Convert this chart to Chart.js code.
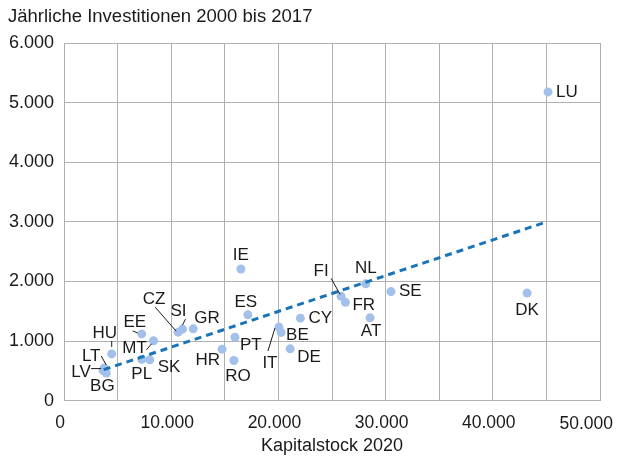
<!DOCTYPE html>
<html>
<head>
<meta charset="utf-8">
<script src="https://cdn.jsdelivr.net/npm/chart.js@4"></script>
<style>
  html, body { margin: 0; padding: 0; background: #fff; }
  canvas { display: block; }
</style>
</head>
<body>
<canvas id="investChart" width="617" height="456"></canvas>
<script>
const countries = ["LU", "DK", "SE", "NL", "FI", "FR", "AT", "CY", "BE", "DE", "IT", "IE", "ES", "PT",
    "HR", "RO", "GR", "SI", "CZ", "EE", "MT", "HU", "LT", "LV", "PL", "SK", "BG"];
const kapitalstock = [45150, 43200, 30500, 28150, 25850, 26250, 28550, 22050, 20250, 21100, 20050, 16500, 17150, 15950,
    14750, 15850, 12050, 11050, 10650, 7250, 8350, 4450, 3750, 3650, 7250, 8000, 3950];
const investitionen = [5180, 1805, 1830, 1960, 1750, 1650, 1390, 1385, 1145, 870, 1235, 2210, 1440, 1065,
    865, 675, 1205, 1200, 1150, 1120, 1005, 785, 550, 505, 695, 685, 465];
const trendX = [3700, 44700];
const trendY = [520, 2980];
const xTickLabels = ["0", "10.000", "20.000", "30.000", "40.000", "50.000"];
const yTickLabels = ["0", "1.000", "2.000", "3.000", "4.000", "5.000", "6.000"];

// label placement: dx, dy, align, optional leader line (relative to point)
const labelPos = {
    LU: [8, 0, "left"], DK: [0, 17, "center"], SE: [8, 0, "left"], NL: [0, -16, "center"],
    FI: [-20, -25, "center", [-10, -18, -1, -2]], FR: [7, 3, "left"], AT: [1, 13, "center"],
    CY: [8, 0, "left"], BE: [5, 3, "left"], DE: [7, 8, "left"],
    IT: [-9, 36, "center", [-11, 24, -4, 1]], IE: [0, -14, "center"], ES: [-2, -13, "center"],
    PT: [5, 8, "left"], HR: [-2, 11, "right"], RO: [4, 16, "center"], GR: [1, -11, "left"],
    SI: [-4, -18, "center", [3, -10, 0, -4]], CZ: [-24, -33, "center", [-23, -25, -2, -1]],
    EE: [-7, -12, "center", [-9, -3, -4, -1]], MT: [-19, 8, "center", [-7, 9, -2, 3]],
    HU: [-7, -21, "center", [0, -13, 0, -7]], LT: [-13, -12, "center", [-3, -12, 2, -3]],
    LV: [-22, 2, "center", [-12, -2, -2, -2]], PL: [0, 15, "center"], SK: [8, 7, "left"],
    BG: [-4, 13, "center"]
};

const FONT = "'Liberation Sans', Arial, Helvetica, sans-serif";
const gridColor = "#b0b0b0";

const pointLabels = {
    id: "pointLabels",
    afterDatasetsDraw(chart) {
        const ctx = chart.ctx;
        const meta = chart.getDatasetMeta(0);
        ctx.save();
        ctx.font = "17px " + FONT;
        ctx.fillStyle = "#1a1a1a";
        ctx.strokeStyle = "#1a1a1a";
        ctx.lineWidth = 1;
        ctx.textBaseline = "middle";
        countries.forEach((c, i) => {
            const p = meta.data[i];
            const pos = labelPos[c];
            ctx.textAlign = pos[2];
            ctx.fillText(c, p.x + pos[0], p.y + pos[1]);
            if (pos[3]) {
                const l = pos[3];
                ctx.beginPath();
                ctx.moveTo(p.x + l[0], p.y + l[1]);
                ctx.lineTo(p.x + l[2], p.y + l[3]);
                ctx.stroke();
            }
        });
        // last x tick label sits inside the canvas edge
        const xs = chart.scales.x;
        ctx.font = "17.5px " + FONT;
        ctx.textAlign = "right";
        ctx.fillText(xTickLabels[xTickLabels.length - 1], xs.getPixelForValue(50000) + 13, xs.top + 23);
        ctx.restore();
    }
};

new Chart(document.getElementById("investChart"), {
    type: "scatter",
    data: {
        datasets: [{
            label: "Investitionen",
            data: countries.map((c, i) => ({ x: kapitalstock[i], y: investitionen[i] })),
            backgroundColor: "#a3c0ea",
            borderWidth: 0,
            pointRadius: 4.5,
            pointHoverRadius: 4.5,
            order: 2
        }, {
            type: "line",
            label: "Trend",
            data: trendX.map((x, i) => ({ x: x, y: trendY[i] })),
            borderColor: "#1874b8",
            borderWidth: 3,
            borderDash: [7, 5],
            pointRadius: 0,
            fill: false,
            order: 1
        }]
    },
    options: {
        responsive: false,
        animation: false,
        layout: { padding: { left: 8, right: 17, top: 0, bottom: 0 } },
        plugins: {
            legend: { display: false },
            tooltip: { enabled: false },
            title: {
                display: true,
                text: "Jährliche Investitionen 2000 bis 2017",
                align: "start",
                color: "#1a1a1a",
                font: { family: FONT, size: 18.5, weight: "normal", lineHeight: 1.2 },
                padding: { top: 6, bottom: 14.8 }
            }
        },
        scales: {
            x: {
                type: "linear",
                min: 0,
                max: 50000,
                grid: { color: gridColor, drawTicks: false },
                border: { color: gridColor },
                ticks: {
                    stepSize: 5000,
                    autoSkip: false,
                    maxRotation: 0,
                    padding: 12,
                    labelOffset: -4,
                    color: "#1a1a1a",
                    font: { family: FONT, size: 17.5 },
                    callback: (v) => (v % 10000 === 0 && v < 50000) ? xTickLabels[v / 10000] : ""
                },
                title: {
                    display: true,
                    text: "Kapitalstock 2020",
                    color: "#1a1a1a",
                    font: { family: FONT, size: 18, lineHeight: 1 },
                    padding: { top: 0, bottom: 1 }
                },
                afterFit: (s) => { s.height = 55.3; s.paddingRight = 0; }
            },
            y: {
                min: 0,
                max: 6000,
                grid: { color: gridColor, drawTicks: false },
                border: { color: gridColor },
                ticks: {
                    stepSize: 1000,
                    padding: 10,
                    color: "#1a1a1a",
                    font: { family: FONT, size: 18 },
                    callback: (v) => yTickLabels[v / 1000]
                },
                afterFit: (s) => { s.width = 56; }
            }
        }
    },
    plugins: [pointLabels]
});
</script>
</body>
</html>
